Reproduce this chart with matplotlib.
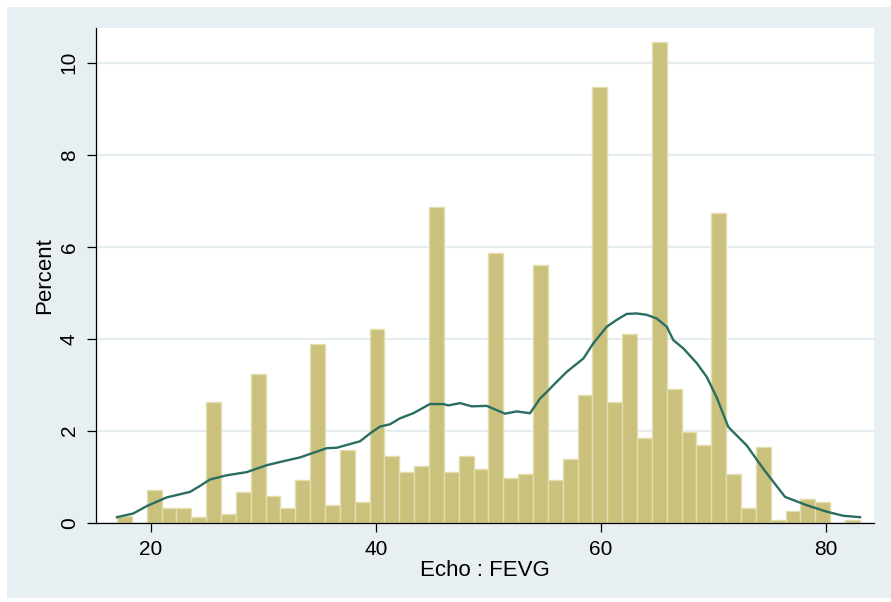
import numpy as np
import matplotlib.pyplot as plt
from matplotlib.patches import Rectangle

# histogram of Echo : FEVG, 50 bins from 17 to 83, heights in percent
bin_edges = np.linspace(17, 83, 51)
pct = [0.15, 0.00, 0.72, 0.32, 0.32, 0.13, 2.63, 0.18, 0.66, 3.23,
       0.58, 0.32, 0.92, 3.89, 0.39, 1.59, 0.44, 4.21, 1.45, 1.10,
       1.24, 6.86, 1.11, 1.44, 1.17, 5.87, 0.98, 1.05, 5.61, 0.92,
       1.38, 2.77, 9.48, 2.63, 4.10, 1.85, 10.46, 2.90, 1.97, 1.70,
       6.73, 1.05, 0.32, 1.64, 0.06, 0.25, 0.52, 0.44, 0.00, 0.06]

# kernel density overlay (scaled to percent)
kd_x = [17.0, 18.45, 19.64, 21.42, 23.49, 24.38, 25.27, 26.75, 28.53, 30.31,
        31.49, 33.27, 34.45, 35.64, 36.53, 38.60, 39.48, 40.37, 41.26, 42.15,
        43.33, 44.81, 46.0, 46.44, 47.48, 48.52, 49.85, 51.48, 52.52, 53.70,
        54.59, 55.18, 55.77, 56.96, 58.44, 59.32, 60.51, 61.40, 62.29, 63.18,
        64.07, 64.96, 65.85, 66.43, 67.32, 68.51, 69.40, 70.29, 71.32, 72.95,
        74.43, 76.36, 78.29, 80.06, 81.54, 83.02]
kd_y = [0.12, 0.20, 0.36, 0.55, 0.67, 0.80, 0.94, 1.03, 1.10, 1.25,
        1.32, 1.42, 1.52, 1.62, 1.63, 1.77, 1.94, 2.09, 2.14, 2.27,
        2.38, 2.58, 2.58, 2.55, 2.60, 2.53, 2.54, 2.37, 2.42, 2.38,
        2.70, 2.84, 2.99, 3.28, 3.57, 3.90, 4.26, 4.41, 4.54, 4.55,
        4.52, 4.44, 4.26, 3.97, 3.79, 3.47, 3.17, 2.72, 2.08, 1.68,
        1.17, 0.56, 0.38, 0.24, 0.15, 0.12]

x_ticks = [20, 40, 60, 80]
y_ticks = [0, 2, 4, 6, 8, 10]

plt.rcParams['font.family'] = ['Liberation Sans', 'DejaVu Sans']

W, H = 891, 602
fig = plt.figure(figsize=(W / 100, H / 100), dpi=100)
fig.patch.set_facecolor('white')
# light blue-grey outer region, behind the axes
bg = Rectangle((7 / W, 4 / H), 1 - 7 / W, 1 - 11 / H,
               transform=fig.transFigure, facecolor='#E8EFF2',
               edgecolor='none', zorder=-10)
fig.add_artist(bg)

ax = fig.add_axes([96 / W, (H - 522.7) / H, (874 - 96) / W, (522.7 - 28.3) / H])
ax.set_facecolor('white')

ax.bar(bin_edges[:-1], pct, width=np.diff(bin_edges), align='edge',
       color='#C9C17C', edgecolor='#E4DEAE', linewidth=1.0, zorder=2)
ax.plot(kd_x, kd_y, color='#2A6E62', linewidth=1.7, zorder=3)

ax.set_xlim(15.14, 84.26)
ax.set_ylim(0, 10.75)
ax.set_xticks(x_ticks)
ax.set_yticks(y_ticks)
ax.set_yticklabels([str(v) for v in y_ticks], rotation=90, va='center')

for v in y_ticks:
    ax.axhline(v, color='#E6EDF1', linewidth=1.6, zorder=1)

for s in ['top', 'right']:
    ax.spines[s].set_visible(False)
for s in ['left', 'bottom']:
    ax.spines[s].set_linewidth(0.9)
    ax.spines[s].set_color('black')
    ax.spines[s].set_zorder(4)

ax.tick_params(axis='both', direction='out', length=6.5, width=0.9,
               labelsize=15, colors='black')
ax.tick_params(axis='x', pad=6)
ax.tick_params(axis='y', pad=6)

ax.set_xlabel('Echo : FEVG', fontsize=16, labelpad=1)
ax.set_ylabel('Percent', fontsize=16, labelpad=3)

fig.savefig('out.png', dpi=100)
